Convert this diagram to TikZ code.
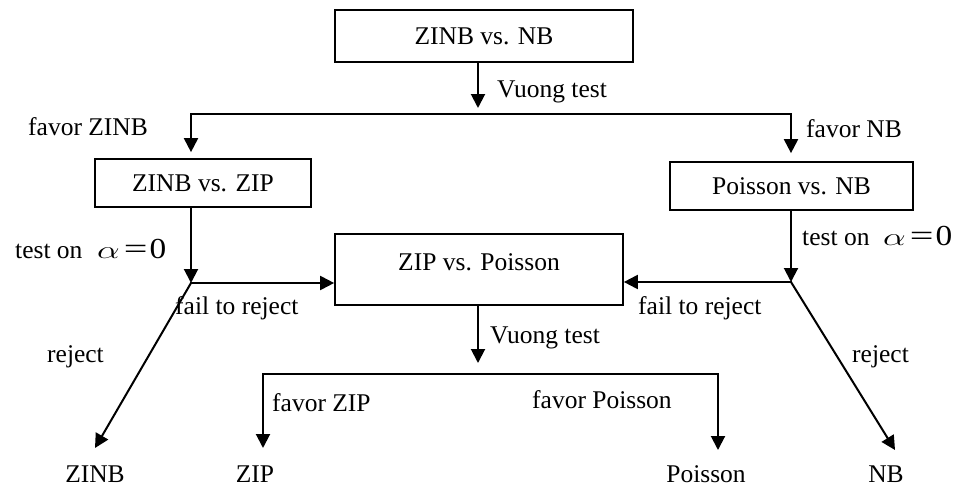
\documentclass[tikz,border=0pt]{standalone}
\usepackage{fontspec}
\usepackage{graphicx}
\setmainfont{Liberation Serif}
\usetikzlibrary{arrows.meta}
% the condition alpha = 0, set wide as in an equation editor
\newcommand{\alphazero}{\scalebox{1.45}[1]{$\alpha$}\hspace{4pt}\scalebox{1.45}[1]{=}\hspace{2pt}\scalebox{1.15}[1]{0}}
\begin{document}
\begin{tikzpicture}[x=1pt,y=-1pt,
  every node/.style={font=\fontsize{25.5}{30}\selectfont, inner sep=0pt},
  box/.style={draw, line width=1.7pt},
  ln/.style={line width=2pt, line cap=rect},
  arr/.style={ln, -{Triangle[length=14pt,width=14pt]}},
  lbl/.style={anchor=base west},
  eq/.style={anchor=base west, font=\fontsize{29}{34}\selectfont},
  outcome/.style={anchor=base}]
\useasboundingbox (0,0) rectangle (961,487);

% boxes
\node[box, minimum width=298pt, minimum height=52pt] (top) at (484,36) {ZINB vs. NB};
\node[box, minimum width=216pt, minimum height=48pt] (zz) at (203,183) {ZINB vs. ZIP};
\node[box, minimum width=243pt, minimum height=48pt] (pn) at (791.5,186) {Poisson vs. NB};
\node[box, minimum width=288pt, minimum height=71pt] (zp) at (479,269.5) {};
\node[anchor=base] (zpt) at (479,270) {ZIP vs. Poisson};

% junction points and free ends
\coordinate (vt) at (478,108);
\coordinate (hl) at (191,114);
\coordinate (hr) at (791,114);
\coordinate (jl) at (191,283);
\coordinate (jr) at (791,282);
\coordinate (tzinb) at (95,448);
\coordinate (tnb) at (895,450);
\coordinate (vb) at (478,363);
\coordinate (bl) at (263,374);
\coordinate (br) at (718,374);
\coordinate (tzip) at (263,448);
\coordinate (tpois) at (718,450);

% first Vuong test
\draw[arr] (top.south -| vt) -- (vt);
\draw[arr, shorten >=6pt] (hl) -- (hl |- zz.north);
\draw[arr, shorten >=8pt] (hl) -- (hr) -- (hr |- pn.north);

% tests on alpha
\draw[arr] (zz.south -| jl) -- (jl);
\draw[arr] (jl) -- (jl -| zp.west);
\draw[arr] (jl) -- (tzinb);
\draw[arr] (pn.south -| jr) -- (jr);
\draw[arr] (jr) -- (jr -| zp.east);
\draw[arr] (jr) -- (tnb);

% second Vuong test
\draw[arr] (zp.south -| vb) -- (vb);
\draw[arr] (bl) -- (tzip);
\draw[arr] (bl) -- (br) -- (tpois);

% labels
\node[lbl] (l1) at (497,97) {Vuong test};
\node[lbl] (l2) at (28,135) {favor ZINB};
\node[lbl] (l3) at (806,137) {favor NB};
\node[lbl] (l4) at (15,258) {test on};
\node[eq] (l5) at (97,258) {\alphazero};
\node[lbl] (l6) at (802,245) {test on};
\node[eq] (l7) at (883,245) {\alphazero};
\node[lbl] (l8) at (175,314) {fail to reject};
\node[lbl] (l9) at (638,314) {fail to reject};
\node[lbl] (l10) at (47,362) {reject};
\node[lbl] (l11) at (852,362) {reject};
\node[lbl] (l12) at (490,343) {Vuong test};
\node[lbl] (l13) at (272,411) {favor ZIP};
\node[lbl] (l14) at (532,408) {favor Poisson};

% outcomes
\node[outcome] (o1) at (95,482) {ZINB};
\node[outcome] (o2) at (255,482) {ZIP};
\node[outcome] (o3) at (706,482) {Poisson};
\node[outcome] (o4) at (886,482) {NB};
\end{tikzpicture}
\end{document}
